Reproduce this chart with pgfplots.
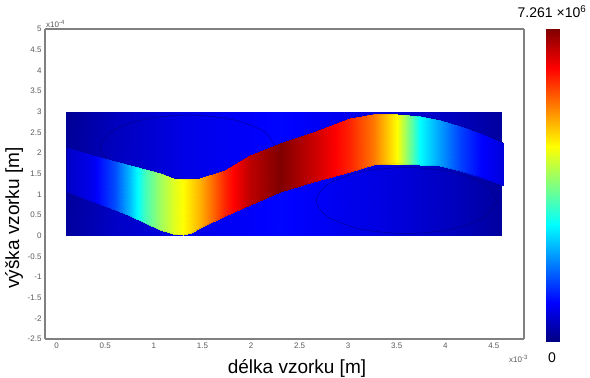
\documentclass[border=0pt]{standalone}
\usepackage{pgfplots}
\pgfplotsset{compat=1.18}
\usepackage{fontspec}
\setmainfont{Liberation Sans}

\begin{document}
\begin{tikzpicture}
\begin{axis}[
  at={(0pt,0pt)}, anchor=south west,
  scale only axis, width=479pt, height=310pt,
  view={0}{90},
  xmin=-0.12, xmax=4.81, ymin=-2.5, ymax=5,
  xtick={0,0.5,1,1.5,2,2.5,3,3.5,4,4.5},
  xticklabels={0,0.5,1,1.5,2,2.5,3,3.5,4,4.5},
  ytick={-2.5,-2,-1.5,-1,-0.5,0,0.5,1,1.5,2,2.5,3,3.5,4,4.5,5},
  yticklabels={-2.5,-2,-1.5,-1,-0.5,0,0.5,1,1.5,2,2.5,3,3.5,4,4.5,5},
  ztick=\empty,
  tick label style={font=\fontsize{8}{9}\selectfont, text=black!65},
  major tick length=0pt,
  axis line style={draw=black!50, line width=1.5pt},
  colormap/jet,
  point meta min=0, point meta max=1,
]
% background rectangle
\addplot3[surf, shader=interp, point meta=\thisrow{c}] table {
x y z c
0.10 0 0 0.03
0.60 0 0 0.07
1.30 0 0 0.10
2.30 0 0 0.13
3.50 0 0 0.09
4.10 0 0 0.06
4.58 0 0 0.03

0.10 3 0 0.02
0.60 3 0 0.06
1.30 3 0 0.10
2.30 3 0 0.13
3.50 3 0 0.09
4.10 3 0 0.06
4.58 3 0 0.03
};
% faint circle outlines
\addplot[smooth, draw={rgb,255:red,0;green,0;blue,110}, line width=0.5pt, opacity=0.65] coordinates {
(2.25,2.14) (2.129,2.53) (1.80,2.815) (1.35,2.92) (0.90,2.815) (0.571,2.53) (0.45,2.14) (0.571,1.75) (0.90,1.465) (1.35,1.36) (1.80,1.465) (2.129,1.75) (2.25,2.14)};
\addplot[smooth, draw={rgb,255:red,0;green,0;blue,110}, line width=0.5pt, opacity=0.65] coordinates {
(4.53,0.85) (4.405,1.25) (4.065,1.543) (3.6,1.65) (3.135,1.543) (2.795,1.25) (2.67,0.85) (2.795,0.45) (3.135,0.157) (3.6,0.05) (4.065,0.157) (4.405,0.45) (4.53,0.85)};
% the S-shaped band
\addplot3[surf, shader=interp, point meta=\thisrow{c}] table {
x y z c
0.103 1.053 0 0.07
0.371 0.811 0 0.11
0.598 0.610 0 0.20
0.753 0.472 0 0.31
0.907 0.303 0 0.44
1.062 0.133 0 0.53
1.200 0.030 0 0.59
1.299 0.012 0 0.625
1.380 0.060 0 0.66
1.474 0.182 0 0.70
1.732 0.472 0 0.84
1.990 0.738 0 0.94
2.299 1.053 0 1.00
2.639 1.295 0 0.93
3.021 1.538 0 0.84
3.258 1.707 0 0.76
3.505 1.741 0 0.625
3.742 1.712 0 0.375
3.948 1.683 0 0.28
4.155 1.567 0 0.19
4.361 1.420 0 0.13
4.600 1.200 0 0.09

0.103 2.143 0 0.07
0.371 1.950 0 0.11
0.598 1.804 0 0.20
0.753 1.707 0 0.31
0.907 1.610 0 0.44
1.062 1.513 0 0.53
1.200 1.400 0 0.59
1.299 1.368 0 0.625
1.380 1.370 0 0.66
1.474 1.392 0 0.70
1.732 1.586 0 0.84
1.990 1.950 0 0.94
2.299 2.240 0 1.00
2.639 2.506 0 0.93
3.021 2.845 0 0.84
3.258 2.942 0 0.76
3.505 2.942 0 0.625
3.742 2.884 0 0.375
3.948 2.797 0 0.28
4.155 2.651 0 0.19
4.361 2.480 0 0.13
4.600 2.240 0 0.09
};
% band edges
\addplot[draw=black, line width=0.4pt, opacity=0.2] coordinates {
(0.103,1.053) (0.371,0.811) (0.598,0.610) (0.753,0.472) (0.907,0.303) (1.062,0.133) (1.200,0.030) (1.299,0.012) (1.380,0.060) (1.474,0.182) (1.732,0.472) (1.990,0.738) (2.299,1.053) (2.639,1.295) (3.021,1.538) (3.258,1.707) (3.505,1.741) (3.742,1.712) (3.948,1.683) (4.155,1.567) (4.361,1.420) (4.600,1.200)};
\addplot[draw=black, line width=0.4pt, opacity=0.2] coordinates {
(0.103,2.143) (0.371,1.950) (0.598,1.804) (0.753,1.707) (0.907,1.610) (1.062,1.513) (1.200,1.400) (1.299,1.368) (1.380,1.370) (1.474,1.392) (1.732,1.586) (1.990,1.950) (2.299,2.240) (2.639,2.506) (3.021,2.845) (3.258,2.942) (3.505,2.942) (3.742,2.884) (3.948,2.797) (4.155,2.651) (4.361,2.480) (4.600,2.240)};
\end{axis}
% colour bar (0 to 7.261e6, jet)
\begin{axis}[
  at={(501pt,-3pt)}, anchor=south west,
  scale only axis, width=13pt, height=313pt,
  hide axis, view={0}{90},
  xmin=0, xmax=1, ymin=0, ymax=1,
  colormap/jet, point meta min=0, point meta max=1,
]
\addplot3[surf, shader=interp, point meta=\thisrow{c}] table {
x y z c
0 0 0 0
1 0 0 0

0 1 0 1
1 1 0 1
};
\end{axis}
\node[anchor=base, font=\fontsize{19}{22}\selectfont] at (252pt,-35pt) {délka vzorku [m]};
\node[rotate=90, font=\fontsize{19}{22}\selectfont] at (-31pt,121pt) {výška vzorku [m]};
\node[font=\fontsize{14}{16}\selectfont] at (507pt,327pt) {7.261 ×10\textsuperscript{6}};
\node[font=\fontsize{14}{16}\selectfont] at (507pt,-19pt) {0};
\node[anchor=west, font=\fontsize{8}{9}\selectfont, text=black!65, inner sep=0pt] at (1pt,315pt) {x10\textsuperscript{-4}};
\node[anchor=west, font=\fontsize{8}{9}\selectfont, text=black!65, inner sep=0pt] at (464pt,-20pt) {x10\textsuperscript{-3}};
\pgfresetboundingbox
\path[use as bounding box] (-45pt,-39pt) rectangle (545pt,339pt);
\end{tikzpicture}
\end{document}
